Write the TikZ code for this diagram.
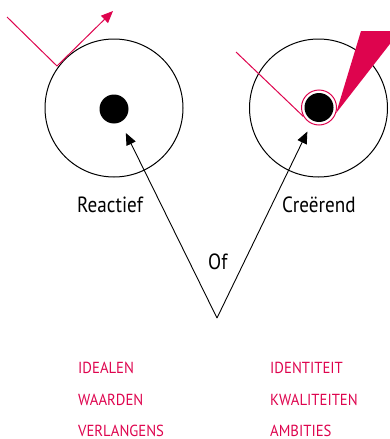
\documentclass[tikz,border=0pt]{standalone}
\usepackage{fontspec}
\setmainfont{PT Sans}
\newfontfamily\labelfont[FakeStretch=0.87]{PT Sans}
\newfontfamily\termfont[FakeStretch=0.92]{PT Sans}
\usepackage{tikz}
\usetikzlibrary{arrows.meta, positioning, calc}
\definecolor{accent}{RGB}{222,4,78}

\begin{document}
\begin{tikzpicture}[
    x=1pt, y=-1pt,
    disc/.style={circle, draw=black, line width=1pt, minimum size=138pt, inner sep=0pt},
    core/.style={circle, fill=black, minimum size=29pt, inner sep=0pt},
    halo/.style={circle, draw=accent, line width=1pt, minimum size=35pt, inner sep=0pt},
    mode/.style={anchor=base west, inner sep=0pt, font=\labelfont\fontsize{22}{25}\selectfont},
    term/.style={anchor=base west, inner sep=0pt, text=accent, font=\termfont\fontsize{16}{19}\selectfont},
    arrow/.style={-{Triangle[length=12pt, width=10pt]}, line width=0.9pt, shorten >=12pt},
    ray/.style={line width=1pt, color=accent}
]
    \useasboundingbox (0,0) rectangle (390,439);
    \clip (0,0) rectangle (390,439);

    % Twee cirkels
    \node (discL) [disc] at (114,108) {};
    \node (discR) [disc] at (318.5,108) {};
    \node (coreL) [core] at (114,109) {};
    \node (coreR) [core] at (319,107.5) {};
    \node (haloR) [halo] at (coreR) {};

    % Stralen
    \coordinate (inL) at (7,17);
    \coordinate (hitL) at (57,66);
    \coordinate (outL) at (113,11);
    \draw [ray, -{Triangle[length=12pt, width=10pt]}] (inL) -- (hitL) -- (outL);

    \coordinate (inR) at (236,52);
    \draw [ray] (inR) -- (haloR.210);
    \fill [accent] (haloR.-18) -- (361,31) -- (400,31) -- cycle;

    % Keuze
    \coordinate (of) at (217,318);
    \draw [arrow] (of) -- (coreL);
    \draw [arrow] (of) -- (coreR);

    \node (reactief) [mode] at (77,212) {Reactief};
    \node (creerend) [mode] at (282,212) {Creërend};
    \node (ofLabel) [mode] at (208,269) {Of};

    % Begrippen
    \node (idealen) [term] at (78,373.5) {IDEALEN};
    \node (waarden) [term] at (78,405) {WAARDEN};
    \node (verlangens) [term] at (78,436) {VERLANGENS};
    \node (identiteit) [term] at (270,373.5) {IDENTITEIT};
    \node (kwaliteiten) [term] at (270,405) {KWALITEITEN};
    \node (ambities) [term] at (270,436) {AMBITIES};

\end{tikzpicture}
\end{document}
